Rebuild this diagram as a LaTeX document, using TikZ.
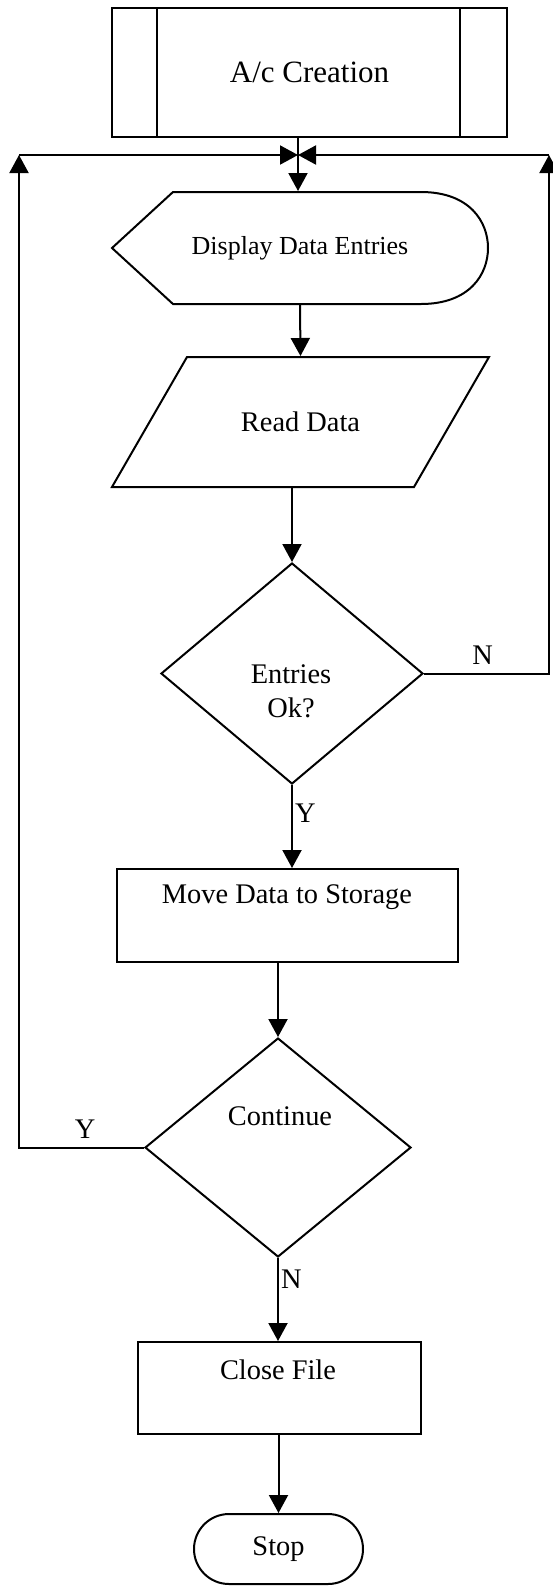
\documentclass[tikz,border=0pt]{standalone}
\usepackage{fontspec}
\setmainfont{Liberation Serif}
\usetikzlibrary{shapes.geometric,arrows.meta}
\tikzstyle{proc} = [rectangle, draw, fill=white, inner sep=0pt]
\tikzstyle{decision} = [diamond, draw, inner sep=0pt]
\tikzstyle{term} = [rectangle, rounded corners=17.5pt, draw, inner sep=0pt]
\tikzstyle{txt} = [inner sep=0pt, align=center]
\tikzstyle{flag} = [inner sep=1pt]

\begin{document}
\begin{tikzpicture}[x=0.5pt,y=-0.5pt,line width=1pt,>={Triangle[length=9pt,width=9.5pt]},font=\fontsize{14.2}{17}\selectfont]
  \useasboundingbox (0,0) rectangle (552,1586);

  \node[proc, minimum width=197.5pt, minimum height=64.5pt, font=\fontsize{15.5}{18}\selectfont] (acc) at (309.5,72.5) {A/c Creation};
  \draw (acc.north west) ++(46,0) -- ++(0,129);
  \draw (acc.north east) ++(-48,0) -- ++(0,129);

  \coordinate (merge) at (298,155);
  \coordinate (loopL) at (19,155);
  \coordinate (loopR) at (549,155);

  \node[txt, minimum width=188pt, minimum height=56pt, font=\fontsize{13}{15}\selectfont] (disp) at (300,248) {Display Data Entries};
  \draw (112,248) -- (173,192) -- (421,192) .. controls (470,192) and (488,222) .. (488,248)
    .. controls (488,274) and (470,304) .. (421,304) -- (173,304) -- cycle;

  \node[txt, minimum width=188.5pt, minimum height=65pt] (read) at (300.5,422) {Read Data};
  \draw (187,357) -- (489,357) -- (414,487) -- (112,487) -- cycle;

  \node[decision, minimum width=131pt, minimum height=110.5pt] (ok) at (292,673.5) {};
  \node[txt] (okT) at (291,691) {Entries\\Ok?};

  \node[proc, minimum width=170.5pt, minimum height=46.5pt] (move) at (287.5,915.5) {};
  \node[txt] (moveT) at (287,897) {Move Data to Storage};

  \node[decision, minimum width=133pt, minimum height=109.5pt] (cont) at (278,1147.5) {};
  \node[txt] (contT) at (280,1116) {Continue};

  \node[proc, minimum width=141.5pt, minimum height=46pt] (close) at (279.5,1388) {};
  \node[txt] (closeT) at (278,1370) {Close File};

  \node[term, minimum width=84.5pt, minimum height=35pt] (stop) at (278.5,1549) {Stop};

  \draw (acc.south -| merge) -- (merge);
  \draw[->] (merge) -- (merge |- disp.north);
  \draw[->] (disp.south) -- (read.north);
  \draw[->] (read.south -| ok.north) -- (ok.north);
  \draw[->] (ok.south) -- (ok.south |- move.north) node[flag, pos=0.34, right] {Y};
  \draw[->] (move.south -| cont.north) -- (cont.north);
  \draw[->] (cont.south) -- (cont.south |- close.north) node[flag, pos=0.25, right] {N};
  \draw[->] (close.south -| stop.north) -- (stop.north);

  \draw[->] (cont.west) -- (cont.west -| loopL) node[flag, pos=0.47, above=3pt] {Y} -- (loopL);
  \draw[->] (ok.east) -- (ok.east -| loopR) node[flag, pos=0.47, above=3pt] {N} -- (loopR);
  \draw[->] (loopL) -- (merge);
  \draw[->] (loopR) -- (merge);
\end{tikzpicture}
\end{document}
